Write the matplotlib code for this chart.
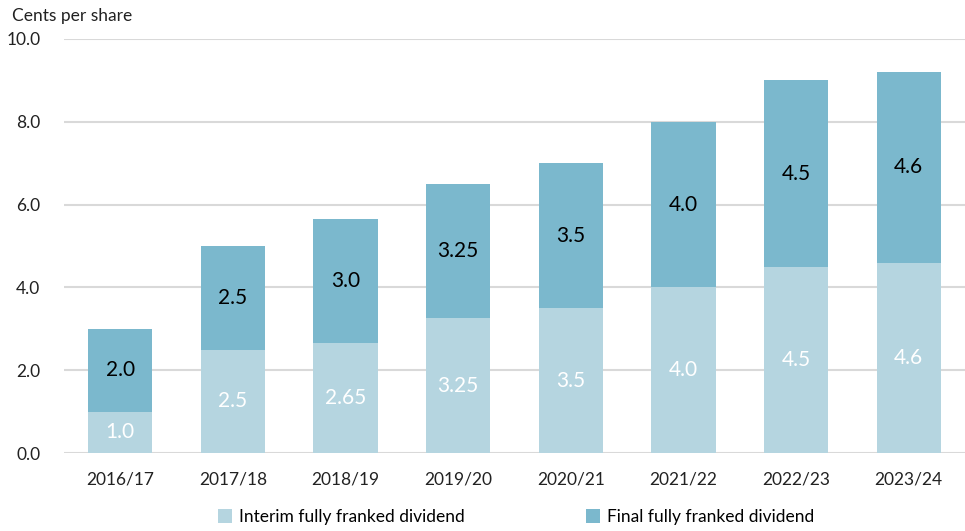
import matplotlib.pyplot as plt

# ── Data ──────────────────────────────────────────────────────────────
years = ["2016/17", "2017/18", "2018/19", "2019/20",
         "2020/21", "2021/22", "2022/23", "2023/24"]
interim = [1.0, 2.5, 2.65, 3.25, 3.5, 4.0, 4.5, 4.6]
final = [2.0, 2.5, 3.0, 3.25, 3.5, 4.0, 4.5, 4.6]
interim_labels = ["1.0", "2.5", "2.65", "3.25", "3.5", "4.0", "4.5", "4.6"]
final_labels = ["2.0", "2.5", "3.0", "3.25", "3.5", "4.0", "4.5", "4.6"]
y_ticks = [0, 2, 4, 6, 8, 10]

plt.rcParams["font.family"] = ["Lato", "DejaVu Sans"]

fig = plt.figure(figsize=(9.65, 5.31), dpi=100)
ax = fig.add_axes([64 / 965, 1 - 453 / 531, 901 / 965, 414 / 531])

x = list(range(len(years)))
width = 0.57
c_interim = "#B5D5E0"
c_final = "#7BB8CD"

b1 = ax.bar(x, interim, width, color=c_interim, label="Interim fully franked dividend", zorder=3)
b2 = ax.bar(x, final, width, bottom=interim, color=c_final, label="Final fully franked dividend", zorder=3)

for i in x:
    ax.text(i, interim[i] / 2, interim_labels[i], ha="center", va="center",
            color="white", fontsize=15, zorder=4)
    ax.text(i, interim[i] + final[i] / 2, final_labels[i], ha="center", va="center",
            color="black", fontsize=15, zorder=4)

ax.set_xlim(-0.5, len(years) - 0.5)
ax.set_ylim(0, 10)
ax.set_yticks(y_ticks)
ax.set_yticklabels([f"{v:.1f}" for v in y_ticks], fontsize=12.5, color="#222222")
ax.set_xticks(x)
ax.set_xticklabels(years, fontsize=12.5, color="#222222")
ax.tick_params(axis="both", length=0)
ax.tick_params(axis="y", pad=17)
ax.tick_params(axis="x", pad=13)
ax.grid(axis="y", color="#D9D9D9", linewidth=1.5, zorder=0)
for s in ax.spines.values():
    s.set_visible(False)

fig.text(12 / 965, 1 - 16 / 531, "Cents per share", fontsize=12.5,
         color="#222222", va="center", ha="left")

fig.legend(handles=[b1, b2], loc="center", bbox_to_anchor=(0.535, 1 - 517 / 531),
           ncol=2, frameon=False, fontsize=12.5, handlelength=0.8, handleheight=0.8,
           handletextpad=0.4, columnspacing=7.0)

fig.savefig("out.png", dpi=100)
